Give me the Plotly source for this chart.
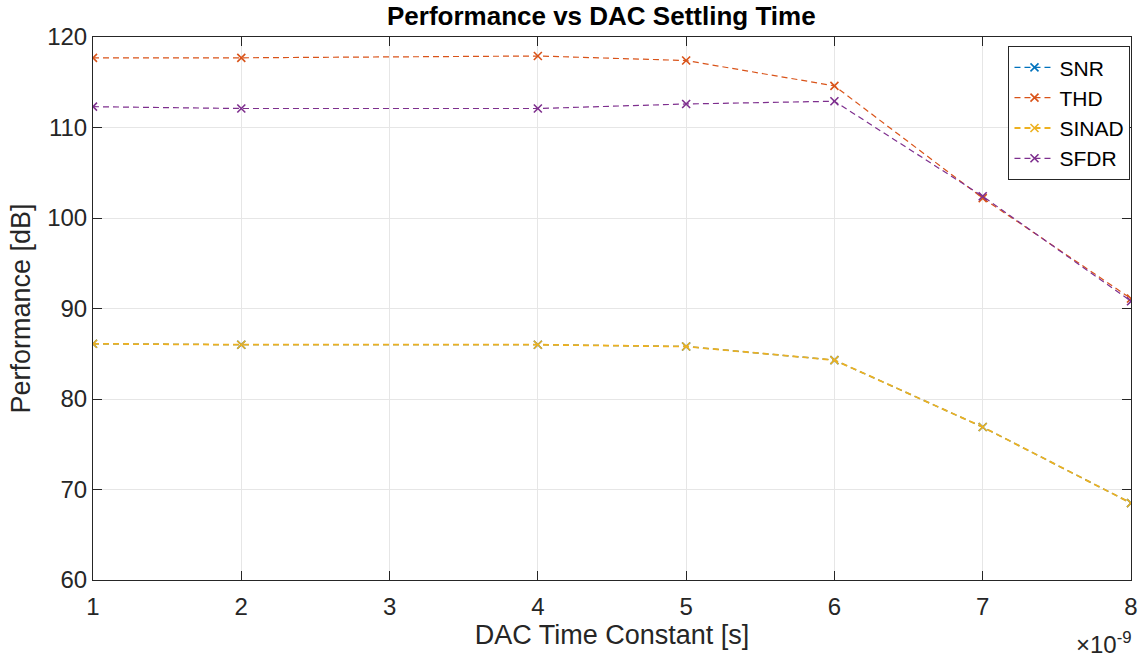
import plotly.graph_objects as go

# DAC time constant in nanoseconds (tick values are shown with a ×10^-9 exponent)
time_constant_ns = [1, 2, 4, 5, 6, 7, 8]

snr_db = [86.1, 86.0, 86.0, 85.8, 84.3, 76.9, 68.5]
thd_db = [117.7, 117.7, 117.9, 117.4, 114.6, 102.2, 91.1]
sinad_db = [86.1, 86.0, 86.0, 85.8, 84.3, 76.9, 68.5]
sfdr_db = [112.3, 112.1, 112.1, 112.6, 112.9, 102.4, 90.8]

x_ticks_ns = [1, 2, 3, 4, 5, 6, 7, 8]
y_ticks = [60, 70, 80, 90, 100, 110, 120]

x_seconds = [v * 1e-9 for v in time_constant_ns]

# (name, values, colour, line width) - SINAD is drawn a touch wider so it
# fully hides the coincident SNR curve underneath it
series = [
    ("SNR", snr_db, "#0072BD", 1.2),
    ("THD", thd_db, "#D95319", 1.2),
    ("SINAD", sinad_db, "#EDB120", 1.8),
    ("SFDR", sfdr_db, "#7E2F8E", 1.2),
]

FONT = "Liberation Sans, Arial, Helvetica, sans-serif"

fig = go.Figure()
for name, vals, color, lw in series:
    fig.add_trace(go.Scatter(
        x=x_seconds, y=vals, name=name, mode="lines+markers",
        line=dict(color=color, width=lw, dash="6px,4px"),
        marker=dict(symbol="x-thin", size=8, line=dict(color=color, width=1.6)),
    ))

axis_common = dict(
    showline=True, linecolor="#262626", linewidth=1, mirror="allticks",
    ticks="inside", ticklen=9, tickcolor="#262626", tickwidth=1,
    showgrid=True, gridcolor="#e6e6e6", gridwidth=1, zeroline=False,
    tickfont=dict(family=FONT, size=24, color="#262626"),
    automargin=False,
)

fig.update_layout(
    width=1141, height=659,
    margin=dict(l=93, r=10, t=37, b=79),
    paper_bgcolor="white", plot_bgcolor="white",
    title=dict(text="<b>Performance vs DAC Settling Time</b>", x=0.527, xanchor="center",
               y=0.976, yanchor="middle",
               font=dict(family=FONT, size=26, color="black")),
    xaxis=dict(
        range=[1e-9, 8e-9],
        tickvals=[v * 1e-9 for v in x_ticks_ns],
        ticktext=[str(v) for v in x_ticks_ns],
        ticklabelstandoff=5,
        title=dict(text="DAC Time Constant [s]", standoff=2,
                   font=dict(family=FONT, size=27, color="#262626")),
        **axis_common,
    ),
    yaxis=dict(
        range=[60, 120], tickvals=y_ticks,
        title=dict(text="Performance [dB]", standoff=8,
                   font=dict(family=FONT, size=27, color="#262626")),
        **axis_common,
    ),
    legend=dict(
        x=0.9995, y=0.983, xanchor="right", yanchor="top",
        bgcolor="white", bordercolor="#262626", borderwidth=1,
        font=dict(family=FONT, size=21, color="black"),
        tracegroupgap=0, itemwidth=40,
    ),
    showlegend=True,
)

fig.add_annotation(
    xref="paper", yref="paper", x=1.003, y=-0.148, xanchor="right", yanchor="bottom",
    text="×10<sup>-9</sup>", showarrow=False,
    font=dict(family=FONT, size=24, color="#262626"),
)

fig.write_html("out.html")
